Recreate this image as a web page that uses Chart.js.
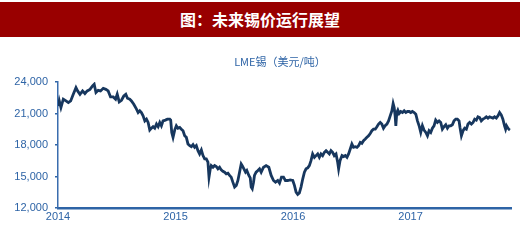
<!DOCTYPE html>
<html>
<head>
<meta charset="utf-8">
<script src="https://cdn.jsdelivr.net/npm/chart.js@4"></script>
<style>
  html, body { margin: 0; padding: 0; background: #ffffff; }
  #wrap { position: relative; width: 520px; height: 240px; overflow: hidden; }
  #band { position: absolute; left: 0; top: 2px; width: 520px; height: 35px; background: #990000;
          color: #ffffff; font: bold 16px "Noto Sans CJK SC", sans-serif; text-align: center; line-height: 35px; }
  #sub { position: absolute; left: 0; width: 560px; top: 54px; text-align: center; color: #2E64A6;
         font: 11px "Noto Sans CJK SC", "Liberation Sans", sans-serif; line-height: 15px; }
  canvas { position: absolute; left: 0; top: 0; }
</style>
</head>
<body>
<div id="wrap">
  <canvas id="c" width="520" height="240"></canvas>
  <div id="band">图：未来锡价运行展望</div>
  <div id="sub">LME锡（美元/吨）</div>
</div>
<script>
// decimal year of each reading
const dates = [
2014.003,2014.011,2014.025,2014.045,2014.068,2014.088,2014.108,2014.130,2014.153,2014.167,
2014.187,2014.209,2014.229,2014.249,2014.272,2014.294,2014.308,2014.323,2014.342,2014.362,
2014.385,2014.407,2014.427,2014.447,2014.470,2014.490,2014.504,2014.521,2014.540,2014.560,
2014.577,2014.591,2014.611,2014.625,2014.645,2014.668,2014.682,2014.696,2014.710,2014.724,
2014.739,2014.753,2014.767,2014.781,2014.795,2014.809,2014.823,2014.838,2014.852,2014.866,
2014.880,2014.894,2014.914,2014.931,2014.951,2014.959,2014.968,2014.979,2014.993,2015.007,
2015.021,2015.036,2015.050,2015.064,2015.078,2015.092,2015.106,2015.121,2015.135,2015.149,
2015.163,2015.177,2015.191,2015.205,2015.220,2015.234,2015.248,2015.262,2015.276,2015.285,
2015.296,2015.304,2015.319,2015.333,2015.347,2015.361,2015.375,2015.389,2015.403,2015.418,
2015.432,2015.446,2015.460,2015.474,2015.488,2015.503,2015.517,2015.531,2015.545,2015.559,
2015.568,2015.582,2015.596,2015.607,2015.624,2015.636,2015.644,2015.653,2015.664,2015.672,
2015.686,2015.701,2015.715,2015.729,2015.749,2015.771,2015.794,2015.814,2015.834,2015.851,
2015.870,2015.885,2015.902,2015.919,2015.935,2015.955,2015.975,2015.998,2016.012,2016.026,
2016.040,2016.054,2016.068,2016.083,2016.097,2016.111,2016.125,2016.139,2016.153,2016.167,
2016.182,2016.196,2016.210,2016.224,2016.238,2016.252,2016.267,2016.281,2016.295,2016.309,
2016.323,2016.337,2016.351,2016.366,2016.380,2016.388,2016.400,2016.417,2016.431,2016.445,
2016.459,2016.473,2016.487,2016.501,2016.515,2016.530,2016.544,2016.558,2016.572,2016.586,
2016.600,2016.615,2016.629,2016.643,2016.657,2016.671,2016.685,2016.700,2016.714,2016.728,
2016.742,2016.756,2016.770,2016.784,2016.799,2016.813,2016.827,2016.841,2016.852,2016.861,
2016.869,2016.875,2016.883,2016.892,2016.903,2016.917,2016.932,2016.946,2016.960,2016.974,
2016.988,2017.002,2017.016,2017.031,2017.045,2017.059,2017.073,2017.087,2017.101,2017.115,
2017.130,2017.144,2017.158,2017.172,2017.186,2017.200,2017.214,2017.229,2017.243,2017.257,
2017.271,2017.285,2017.300,2017.314,2017.328,2017.342,2017.356,2017.370,2017.385,2017.399,
2017.413,2017.421,2017.433,2017.447,2017.461,2017.475,2017.489,2017.503,2017.518,2017.532,
2017.546,2017.560,2017.574,2017.588,2017.602,2017.616,2017.631,2017.645,2017.659,2017.673,
2017.687,2017.701,2017.715,2017.730,2017.744,2017.758,2017.772,2017.786,2017.800,2017.809,
2017.817,2017.829,2017.837,2017.843
];
// LME tin price, USD/t
const prices = [
21700,22200,21570,22360,22200,22040,22200,22830,23460,23150,
22830,23150,22900,23150,23300,23620,23780,23000,23210,23150,
23400,23300,23150,22580,22580,22360,22830,22100,22260,22670,
22830,22450,22360,22200,21880,21410,21090,21250,21090,20780,
20300,20460,20150,19420,19600,19740,19600,19990,19740,20150,
19830,20300,20370,20460,20460,20370,19200,18730,19420,19830,
19600,19670,19510,19360,18880,18730,18100,17940,17840,18030,
17780,17940,17460,17150,17520,16990,16670,16670,16360,14940,
15730,16040,15880,16040,15950,15730,15880,15630,15500,15410,
15250,15310,15100,14940,14460,13990,14140,14620,15410,16200,
16040,15730,15410,15570,15100,14870,13990,13830,14460,15100,
15410,15570,15730,15410,15880,16040,15880,15100,14620,14460,
14620,14370,14940,14940,14620,14620,14680,14620,14150,13520,
13300,13430,13990,14780,15410,15730,15820,16040,16510,17150,
16830,16990,17150,16830,17150,16990,17300,17460,17300,17150,
17460,17300,16990,17150,16360,15730,16510,16990,16900,16990,
16830,17150,17620,18100,17780,17840,17780,17940,18250,18160,
18410,18570,18730,18880,19100,19360,19510,19510,19740,19990,
20150,19990,19600,19830,19990,20300,20780,21250,21950,21570,
20780,19830,21090,21320,21000,21190,21090,21250,21090,21190,
21190,21090,21190,21090,20940,20300,19830,19200,19830,19420,
19200,18880,19360,19200,19600,19830,20370,20150,20300,20150,
19510,19740,19930,19600,19830,19830,19930,20300,20460,20460,
20300,19670,18880,19360,19600,19510,19990,20150,19990,20150,
20460,20370,20680,20620,20300,20460,20560,20680,20560,20680,
20620,20560,20680,20560,20780,21090,20870,20460,19830,19510,
19830,19600,19510,19600
];
const yTicks = [12000, 15000, 18000, 21000, 24000];
const xTicks = [2014, 2015, 2016, 2017];

const blue = '#2E64A6';
const points = dates.map((d, i) => ({ x: d, y: prices[i] }));

new Chart(document.getElementById('c'), {
  type: 'line',
  data: { datasets: [{
    data: points,
    borderColor: '#17375E',
    borderWidth: 2.8,
    pointRadius: 0,
    tension: 0,
    fill: false
  }]},
  options: {
    responsive: false,
    animation: false,
    events: [],
    layout: { padding: { top: 82, right: 9, left: 0, bottom: 0 } },
    plugins: { legend: { display: false }, title: { display: false }, tooltip: { enabled: false } },
    scales: {
      x: {
        type: 'linear',
        min: 2014, max: 2017.855,
        afterBuildTicks: s => { s.ticks = xTicks.map(v => ({ value: v })); },
        afterFit: s => { s.height = 32; },
        grid: { display: false, drawTicks: false },
        border: { display: true, color: '#2E64A6', width: 2.5 },
        ticks: {
          includeBounds: false,
          color: blue, padding: 2, maxRotation: 0,
          font: { family: 'Liberation Sans', size: 11 },
          callback: v => String(v)
        }
      },
      y: {
        min: 12000, max: 24000,
        afterBuildTicks: s => { s.ticks = yTicks.map(v => ({ value: v })); },
        afterFit: s => { s.width = 58; },
        grid: { display: true, drawOnChartArea: false, drawTicks: true, tickLength: 3, color: blue, lineWidth: 1.5 },
        border: { display: true, color: '#3A6DAE', width: 1.5 },
        ticks: {
          color: blue, padding: 7,
          font: { family: 'Liberation Sans', size: 11 },
          callback: v => v.toLocaleString('en-US')
        }
      }
    }
  }
});
</script>
</body>
</html>
